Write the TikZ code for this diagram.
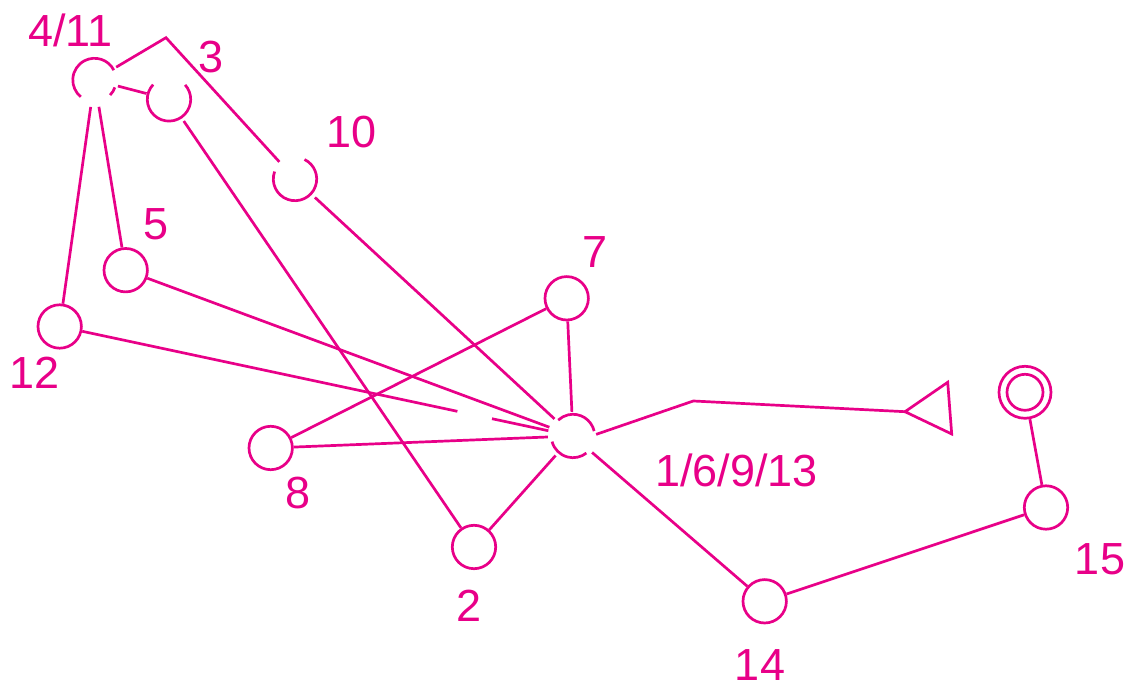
\documentclass[tikz,border=0pt]{standalone}
\usepackage{fontspec}
\setmainfont{Liberation Sans}
\definecolor{mag}{RGB}{232,0,136}
\begin{document}
\begin{tikzpicture}[x=1bp,y=1bp,
  link/.style={draw=mag, line width=2.7bp},
  vtx/.style={circle, draw=mag, line width=2.7bp, minimum size=43.4bp, inner sep=0pt},
  gvtx/.style={circle, minimum size=46bp, inner sep=0pt},
  lab/.style={text=mag, font=\fontsize{45bp}{50bp}\selectfont, anchor=base, inner sep=0pt}]
\useasboundingbox (0,0) rectangle (1133,688);
% vertices
\node[gvtx] (n411) at (94.5,608) {};
\node[gvtx] (n3) at (169,588.6) {};
\node[gvtx] (n10) at (295,509) {};
\node[vtx] (n5) at (125.7,417.8) {};
\node[vtx] (n12) at (59.7,361.5) {};
\node[vtx] (n7) at (566.7,389.7) {};
\node[vtx] (n8) at (270.7,240) {};
\node[vtx] (n2) at (474,141) {};
\node[gvtx] (hub) at (573,252) {};
\node[vtx] (n14) at (764.7,86.7) {};
\node[vtx] (n15) at (1046,180.5) {};
\node[vtx, minimum size=52bp] (nd) at (1025,295.7) {};
\draw[link] (nd.center) circle[radius=18];
\coordinate (c3) at (166,650.3);
\coordinate (bend) at (693.3,287);
\coordinate (tA) at (905,276.3);
\coordinate (tB) at (947.7,305.7);
\coordinate (tC) at (951.7,254);
% gapped circles
\draw[link] ([shift={(27:21.7)}]n411.center) arc[start angle=27, end angle=231, radius=21.7];
\draw[link] ([shift={(316:21.7)}]n411.center) arc[start angle=316, end angle=340, radius=21.7];
\draw[link] ([shift={(137:21.7)}]n3.center) arc[start angle=137, end angle=402, radius=21.7];
\draw[link] ([shift={(160:21.7)}]n10.center) arc[start angle=160, end angle=424, radius=21.7];
\draw[link] ([shift={(13:21.7)}]hub.center) arc[start angle=13, end angle=133, radius=21.7];
\draw[link] ([shift={(195:21.7)}]hub.center) arc[start angle=195, end angle=308, radius=21.7];
% connectors
\draw[link, shorten <=2bp, shorten >=0bp] (n411) -- (c3) -- (n10);
\draw[link, shorten <=1bp] (n411) -- (n3);
\draw[link, shorten <=4bp] (n411) -- (n12);
\draw[link, shorten <=4bp] (n411) -- (n5);
\draw[link, shorten <=3bp] (n3) -- (n2);
\draw[link, shorten <=4bp, shorten >=2bp] (n10) -- (hub);
\draw[link, shorten >=2bp] (n5) -- (hub);
\draw[link, shorten >=95bp] (n12) -- (hub);
\draw[link, shorten <=419bp, shorten >=2bp] (n12) -- (hub);
\draw[link, shorten >=2bp] (n8) -- (hub);
\draw[link] (n7) -- (n8);
\draw[link, shorten >=1bp] (n7) -- (hub);
\draw[link, shorten >=3bp] (n2) -- (hub);
\draw[link, shorten <=2bp] (hub) -- (n14);
\draw[link] (n14) -- (n15);
\draw[link] (n15) -- (nd);
\draw[link] (hub.4) -- (bend) -- (tA);
\draw[link] (tA) -- (tB) -- (tC) -- cycle;
% labels
\node[lab] (l411) at (70.5,641) {4/11};
\node[lab] (l3) at (211,615.3) {3};
\node[lab] (l10) at (352,540) {10};
\node[lab] (l5) at (156,448) {5};
\node[lab] (l12) at (35,299.7) {12};
\node[lab] (l7) at (595,420) {7};
\node[lab] (l8) at (298,179.7) {8};
\node[lab] (l2) at (469,66) {2};
\node[lab] (lhub) at (736.5,201.3) {1/6/9/13};
\node[lab] (l14) at (760,7) {14};
\node[lab] (l15) at (1100,113) {15};
\end{tikzpicture}
\end{document}
